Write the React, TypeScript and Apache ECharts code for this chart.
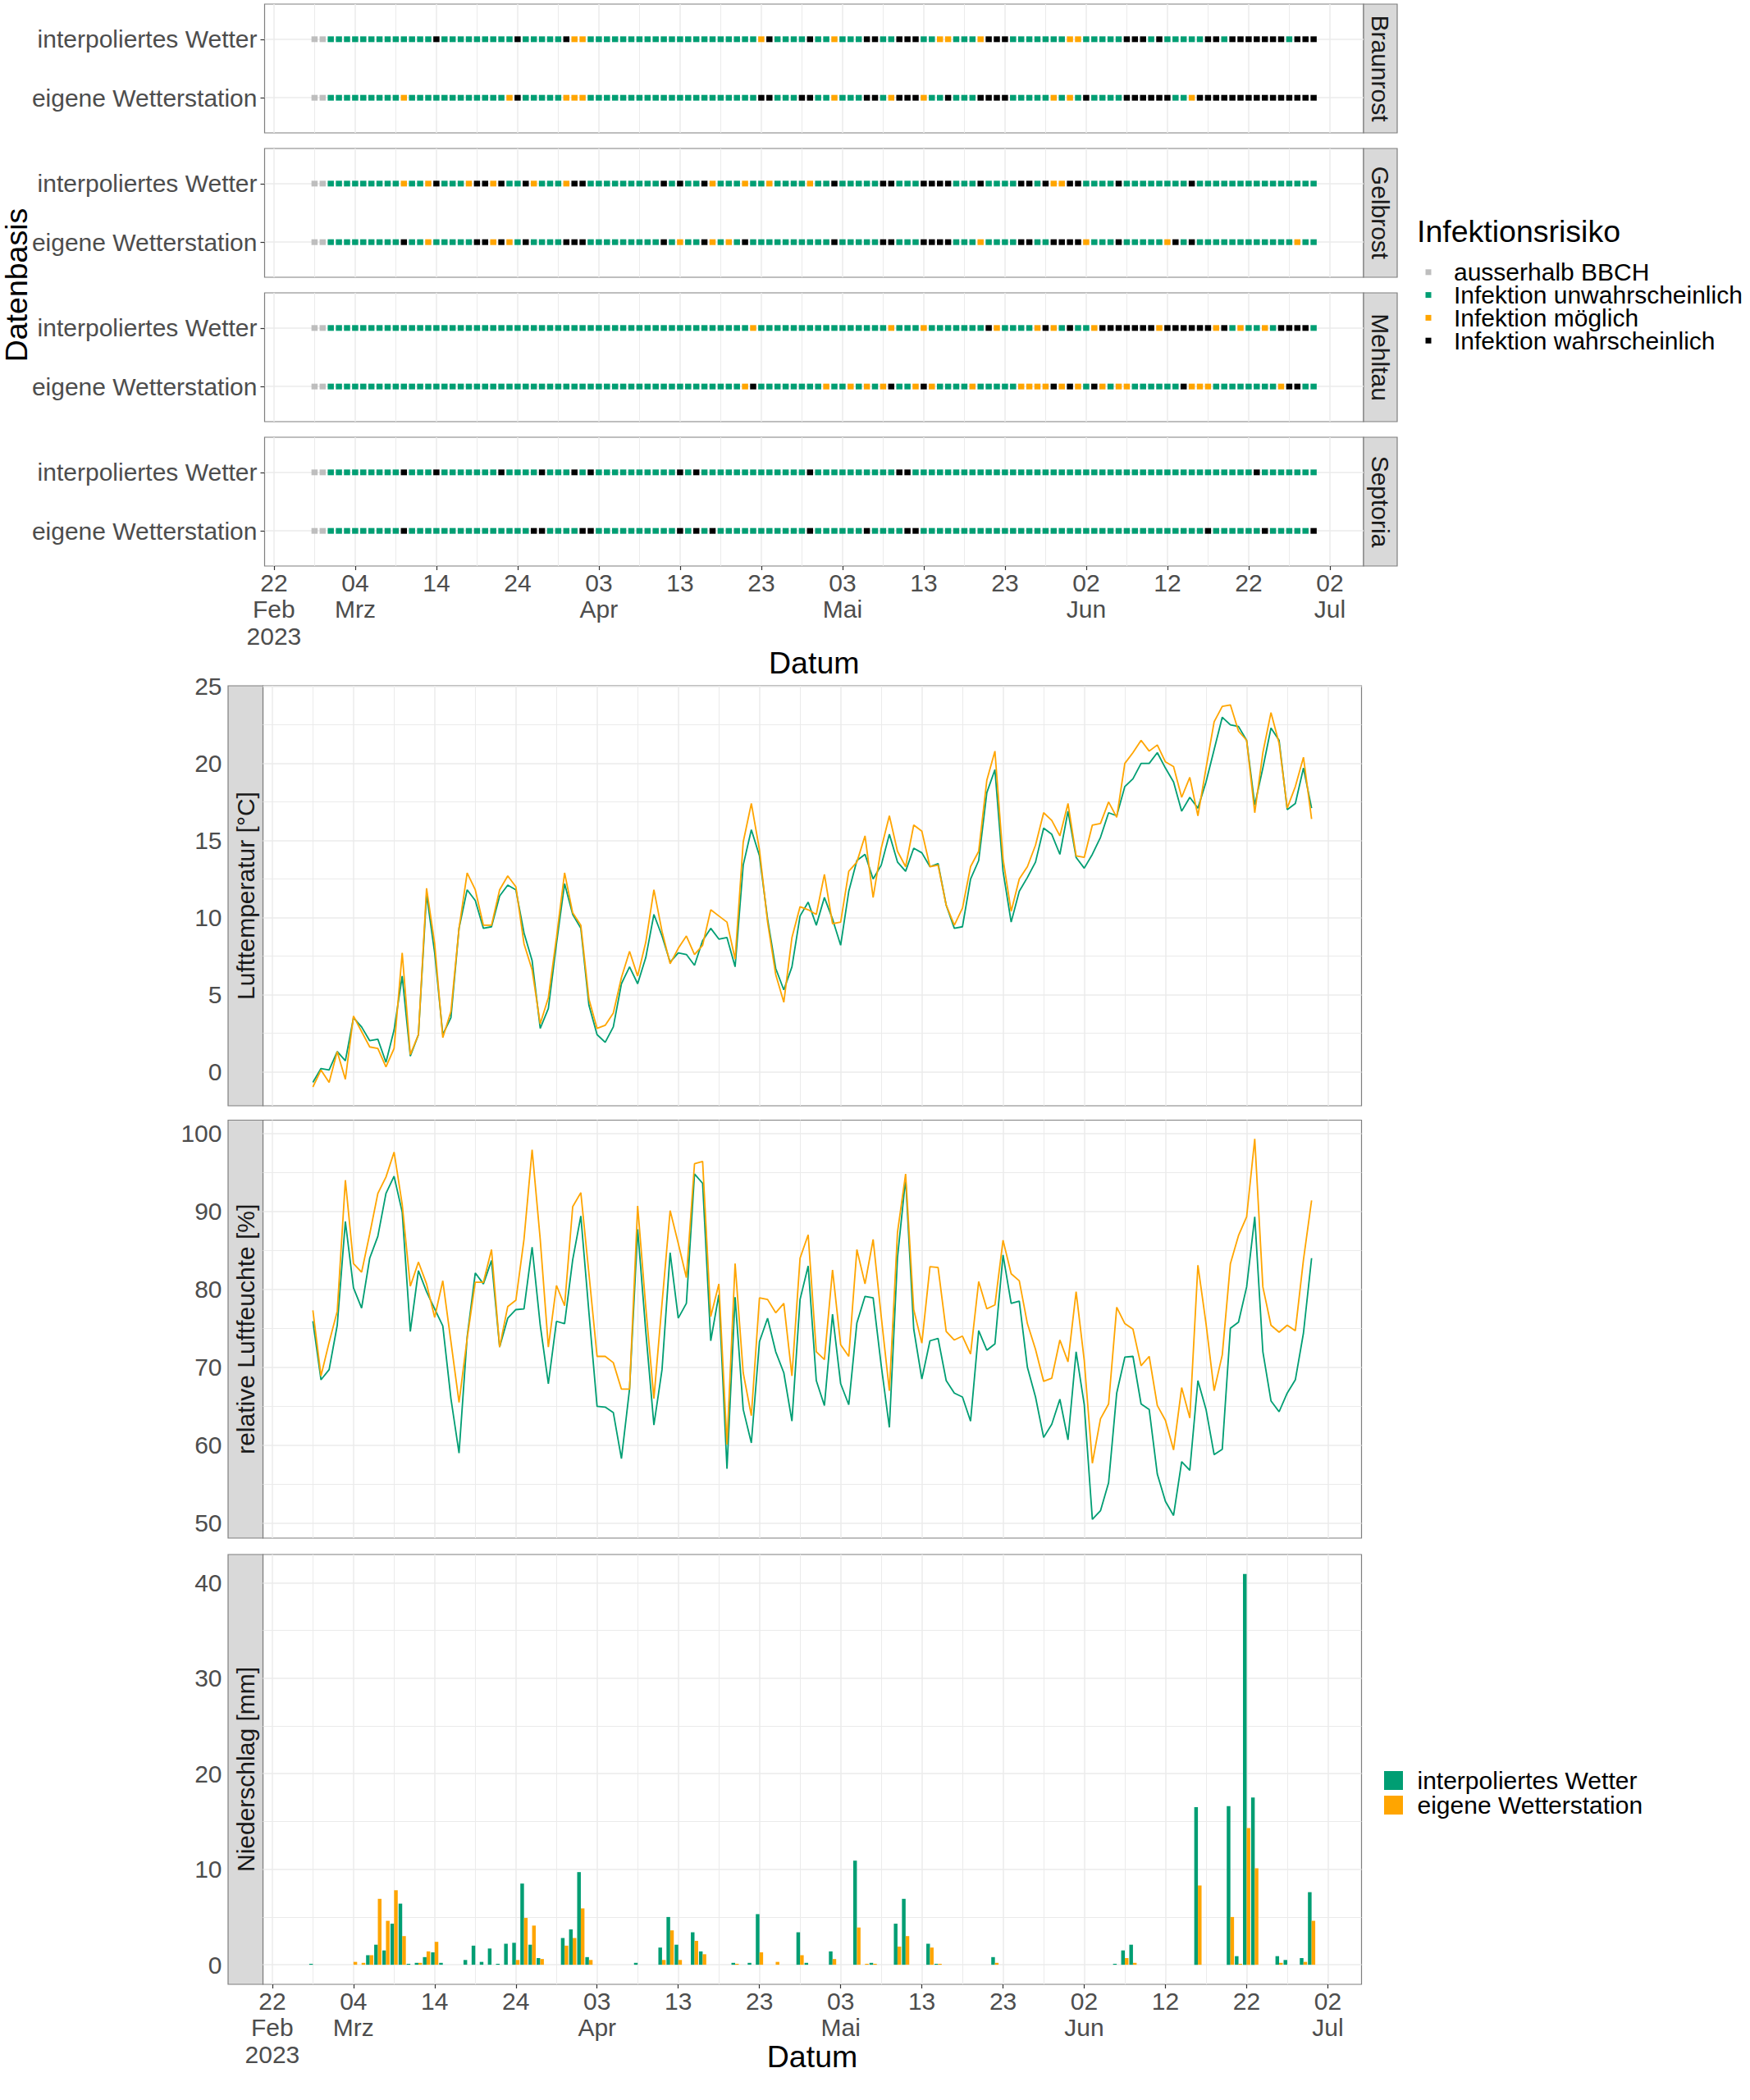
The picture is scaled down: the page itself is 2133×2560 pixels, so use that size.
import React, { useEffect, useRef } from "react";
import * as echarts from "echarts";

const FONT = "'Liberation Sans', Arial, Helvetica, sans-serif";
const WIDTH = 2133;
const HEIGHT = 2560;
const DAY_MS = 86400000;

// ---------- data ----------
const startDate = "2023-02-27";
const tickDates = [
  "2023-02-22", "2023-03-04", "2023-03-14", "2023-03-24", "2023-04-03", "2023-04-13", "2023-04-23",
  "2023-05-03", "2023-05-13", "2023-05-23", "2023-06-02", "2023-06-12", "2023-06-22", "2023-07-02",
];
const monthNames = ["Jan", "Feb", "Mrz", "Apr", "Mai", "Jun", "Jul", "Aug", "Sep", "Okt", "Nov", "Dez"];

const riskLevels = ["ausserhalb BBCH", "Infektion unwahrscheinlich", "Infektion möglich", "Infektion wahrscheinlich"];
const riskCodes = ["g", "u", "m", "w"];
const riskColors = ["#BEBEBE", "#009E73", "#FFA500", "#000000"];
const diseases = ["Braunrost", "Gelbrost", "Mehltau", "Septoria"];
const sources = ["interpoliertes Wetter", "eigene Wetterstation"];
const sourceColors = ["#009E73", "#FFA500"];

// one character per day from 2023-02-27: g = ausserhalb BBCH, u = unwahrscheinlich, m = möglich, w = wahrscheinlich
const braunrostInterp = ["gguuuuuuuu", "uuuuuwuuuu", "uuuuuwuuuu", "uwmmuuuuuu", "uuuuuuuuuu", "uuuuumwuuu", "uwuumuuuww", "uuwwwuummu", "uumwwwuuuu", "uuummuuuuu", "wwwuwuuuuu", "wwuwwwwwww", "uwww"].join("");
const braunrostEigen = ["gguuuuuuuu", "umuuuuuuuu", "uuuumwuuuu", "ummmuuuuuu", "uuuuuuuuuu", "uuuuuwwuuu", "wwuumuuuww", "umwwwmuuwu", "uuwwwwuuuu", "umumuwuuuu", "wwwwwwuumw", "wwwwwwwwww", "wwww"].join("");
const gelbrostInterp = ["gguuuuuuuu", "umuumwuuum", "wwmwuuwmuu", "umwwuuuuuu", "uuuwuwuuwm", "uuumuumuuu", "umuuwuuuuu", "wwuuuwwwwu", "uuwuuuuwwu", "wmmwwuuuuw", "uuuuuuuuwu", "uuuuuuuuuu", "uuuu"].join("");
const gelbrostEigen = ["gguuuuuuuu", "uwuumuuuuu", "wwmwmuwuuu", "uwwwuuuuuu", "uuuwumuuwm", "umuwuuuuuu", "uuuuwuuuuu", "wwuuuwwwwu", "uumuuuuwwu", "uwwwwmuuuw", "uuuuumwuwu", "uuuuuuuuuu", "umuu"].join("");
const mehltauInterp = ["gguuuuuuuu", "uuuuuuuuuu", "uuuuuuuuuu", "uuuuuuuuuu", "uuuuuuuuuu", "uuuumuuuuu", "uuuuuuuuuu", "umuuumuuuu", "uuuwmuuuum", "wmuwuumwww", "wwwwmwwwww", "wmwumuumuw", "wwwu"].join("");
const mehltauEigen = ["gguuuuuuuu", "uuuuuuuuuu", "uuuuuuuuuu", "uuuuuuuuuu", "uuuuuuuuuu", "uuumwuuuuu", "uuumuumumu", "mwuumwmuuu", "umuuuuummm", "mwmwmuwmum", "muuuuuuwmm", "muuuuuuuum", "wwuu"].join("");
const septoriaInterp = ["gguuuuuuuu", "uwuuuwuuuu", "uuuwuuuuwu", "uuwuwuuuuu", "uuuuuwuwuu", "uuuuuuuuuu", "uwuuuuuuuu", "uuwwuuuuuu", "uuuuuuuuuu", "uuuuuuuuuu", "uuuuuuuuuu", "uuuuuuwuuu", "uuuu"].join("");
const septoriaEigen = ["gguuuuuuuu", "uwuuuuuuuu", "uuuuuuuwwu", "uuuwwuuuuu", "uuuuuwuwuw", "uuuuuuuuuu", "uwuuuuuuwu", "uuuwwuuuuu", "uuuuuuuuuu", "uuuuuuuuuu", "uuuuuuuuuu", "wuuuuuuwuu", "uuuw"].join("");
const riskRows = [
  [braunrostInterp, braunrostEigen],
  [gelbrostInterp, gelbrostEigen],
  [mehltauInterp, mehltauEigen],
  [septoriaInterp, septoriaEigen],
];

const tempInterp = [
  -0.7, 0.2, 0.1, 1.3, 0.7, 3.5, 2.9, 2.0, 2.1, 0.6,
  2.7, 6.2, 1.0, 2.4, 11.5, 7.7, 2.4, 3.5, 9.3, 11.8,
  11.1, 9.3, 9.4, 11.4, 12.1, 11.8, 9.0, 7.2, 2.8, 4.1,
  8.3, 12.2, 10.2, 9.3, 4.3, 2.4, 1.9, 2.9, 5.7, 6.8,
  5.7, 7.4, 10.2, 8.8, 7.1, 7.7, 7.6, 6.9, 8.5, 9.3,
  8.6, 8.7, 6.8, 13.4, 15.7, 14.0, 9.9, 6.7, 5.3, 6.8,
  10.1, 11.0, 9.5, 11.3, 9.9, 8.2, 11.7, 13.7, 14.1, 12.5,
  13.4, 15.4, 13.6, 13.0, 14.5, 14.2, 13.3, 13.5, 10.8, 9.3,
  9.4, 12.5, 13.7, 18.1, 19.6, 13.0, 9.7, 11.7, 12.6, 13.6,
  15.8, 15.4, 14.1, 16.9, 13.9, 13.2, 14.1, 15.2, 16.8, 16.6,
  18.5, 19.0, 20.0, 20.0, 20.7, 19.7, 18.8, 16.9, 17.8, 17.1,
  18.8, 20.9, 23.0, 22.5, 22.4, 21.5, 17.3, 19.7, 22.3, 21.5,
  17.0, 17.4, 19.7, 17.1,
];
const tempEigen = [
  -1.0, 0.1, -0.7, 1.3, -0.5, 3.6, 2.6, 1.6, 1.5, 0.3,
  1.5, 7.7, 1.1, 2.4, 11.9, 8.3, 2.2, 3.9, 9.3, 12.9,
  11.8, 9.5, 9.5, 11.8, 12.7, 12.0, 8.3, 6.6, 3.1, 4.8,
  8.7, 12.9, 10.3, 9.5, 4.7, 2.8, 3.0, 3.8, 6.1, 7.8,
  6.2, 8.4, 11.8, 9.1, 7.0, 8.0, 8.8, 7.6, 8.2, 10.5,
  10.1, 9.7, 7.3, 14.9, 17.4, 14.4, 9.7, 6.3, 4.5, 8.7,
  10.7, 10.5, 10.2, 12.8, 9.6, 9.7, 13.0, 13.6, 15.3, 11.3,
  14.5, 16.6, 14.3, 13.3, 16.0, 15.6, 13.3, 13.4, 10.8, 9.5,
  10.6, 13.3, 14.3, 18.9, 20.8, 13.8, 10.4, 12.5, 13.3, 14.7,
  16.8, 16.3, 15.3, 17.4, 14.0, 13.9, 16.0, 16.1, 17.5, 16.5,
  20.0, 20.7, 21.5, 20.8, 21.2, 20.1, 19.8, 17.8, 19.1, 16.6,
  19.7, 22.7, 23.7, 23.8, 22.1, 21.5, 16.8, 20.7, 23.3, 21.3,
  17.1, 18.5, 20.4, 16.4,
];
const humInterp = [
  75.9, 68.4, 69.7, 75.4, 88.7, 80.2, 77.6, 84.0, 86.8, 92.3,
  94.5, 89.9, 74.6, 82.4, 79.7, 77.5, 75.3, 66.0, 59.0, 73.9,
  82.1, 80.7, 83.7, 72.6, 76.3, 77.4, 77.5, 85.4, 75.4, 67.9,
  75.9, 75.6, 83.8, 89.4, 77.0, 65.0, 64.9, 64.2, 58.3, 67.2,
  87.7, 74.6, 62.6, 69.7, 84.7, 76.3, 78.2, 94.8, 93.6, 73.4,
  79.3, 57.0, 79.0, 64.6, 60.3, 73.3, 76.3, 72.0, 69.3, 63.1,
  78.7, 83.0, 68.3, 65.1, 76.8, 67.9, 65.2, 75.7, 79.1, 78.9,
  70.2, 62.3, 84.1, 94.2, 74.9, 68.5, 73.4, 73.7, 68.3, 66.7,
  66.2, 63.1, 74.7, 72.2, 73.0, 84.4, 78.2, 78.5, 70.0, 66.2,
  61.0, 62.7, 65.9, 60.7, 72.0, 65.2, 50.5, 51.6, 55.2, 66.7,
  71.3, 71.4, 65.3, 64.6, 56.3, 52.8, 51.0, 57.9, 56.8, 68.3,
  64.6, 58.8, 59.5, 75.0, 75.8, 80.3, 89.3, 72.0, 65.7, 64.3,
  66.7, 68.4, 74.4, 84.0,
];
const humEigen = [
  77.3, 68.9, 73.2, 77.2, 94.0, 83.3, 82.2, 87.1, 92.3, 94.4,
  97.6, 90.9, 80.4, 83.5, 80.7, 76.4, 81.1, 73.3, 65.5, 73.7,
  80.9, 80.9, 85.1, 72.6, 77.8, 78.6, 86.4, 97.9, 86.4, 72.6,
  80.5, 77.9, 90.6, 92.4, 82.0, 71.4, 71.4, 70.6, 67.2, 67.2,
  90.7, 77.7, 66.0, 78.2, 90.1, 85.9, 81.5, 96.1, 96.4, 76.5,
  80.7, 60.1, 83.3, 69.3, 63.8, 78.9, 78.7, 77.0, 78.2, 68.9,
  84.0, 87.0, 72.0, 71.0, 82.5, 72.9, 71.4, 85.1, 80.7, 86.4,
  76.5, 67.0, 87.3, 94.8, 77.4, 73.1, 82.9, 82.8, 74.6, 73.5,
  74.0, 71.7, 81.0, 77.5, 78.0, 86.3, 82.0, 81.1, 75.6, 72.3,
  68.2, 68.6, 73.5, 70.7, 79.7, 70.9, 57.7, 63.4, 65.3, 77.7,
  75.6, 74.9, 70.2, 71.4, 65.1, 63.2, 59.4, 67.4, 63.5, 83.1,
  75.6, 67.0, 71.6, 83.3, 86.9, 89.3, 99.3, 80.3, 75.4, 74.5,
  75.4, 74.7, 83.8, 91.4,
];
const precipInterp = [
  0.1, 0, 0, 0, 0, 0, 0, 1.0, 2.1, 1.5,
  4.3, 6.4, 0.1, 0.2, 0.8, 1.3, 0.2, 0, 0, 0.5,
  2.0, 0.3, 1.7, 0.1, 2.2, 2.3, 8.5, 2.1, 0.7, 0,
  0, 2.8, 3.7, 9.7, 0.8, 0, 0, 0, 0, 0,
  0.2, 0, 0, 1.8, 5.0, 2.1, 0, 3.4, 1.4, 0,
  0, 0, 0.2, 0, 0.2, 5.3, 0, 0, 0, 0,
  3.4, 0.2, 0, 0, 1.4, 0, 0, 10.9, 0, 0.2,
  0, 0, 4.3, 6.9, 0, 0, 2.2, 0.1, 0, 0,
  0, 0, 0, 0, 0.8, 0, 0, 0, 0, 0,
  0, 0, 0, 0, 0, 0, 0, 0, 0, 0.1,
  1.5, 2.1, 0, 0, 0, 0, 0, 0, 0, 16.5,
  0, 0, 0, 16.6, 0.9, 40.9, 17.5, 0, 0, 0.9,
  0.5, 0, 0.7, 7.6,
];
const precipEigen = [
  0, 0, 0, 0, 0, 0.3, 0.2, 1.0, 6.9, 4.6,
  7.8, 3.0, 0, 0.2, 1.4, 2.4, 0, 0, 0, 0,
  0, 0, 0, 0, 0, 0.5, 4.9, 4.1, 0.6, 0,
  0, 2.0, 2.8, 5.9, 0.5, 0, 0, 0, 0, 0,
  0, 0, 0, 0.5, 3.6, 0.5, 0, 2.5, 1.1, 0,
  0, 0, 0.1, 0, 0, 1.3, 0, 0.3, 0, 0,
  1.0, 0, 0, 0, 0.6, 0, 0, 3.9, 0.1, 0.1,
  0, 0, 1.9, 3.0, 0, 0, 1.8, 0.1, 0, 0,
  0, 0, 0, 0, 0.2, 0, 0, 0, 0, 0,
  0, 0, 0, 0, 0, 0, 0, 0, 0, 0,
  0.7, 0.2, 0, 0, 0, 0, 0, 0, 0, 8.3,
  0, 0, 0, 5.0, 0.1, 14.3, 10.1, 0, 0, 0.2,
  0, 0, 0.3, 4.6,
];

const tempTicks = [0, 5, 10, 15, 20, 25];
const humTicks = [50, 60, 70, 80, 90, 100];
const precipTicks = [0, 10, 20, 30, 40];

// ---------- helpers ----------
const START = Date.parse(startDate);
const toDay = (iso: string) => (Date.parse(iso) - START) / DAY_MS;
const xMajor = tickDates.map(toDay);
const mids = (t: number[]) => t.slice(1).map((v, i) => (v + t[i]) / 2);
const xMinor = mids(xMajor);
const pairs = (arr: number[]) => arr.map((v, i) => [i, v]);

const GRID_COLOR = "#EBEBEB";
const BORDER = "#7F7F7F";
const axisText = { fontFamily: FONT, fontSize: 30, color: "#4D4D4D" };

const X_RANGE = [-6.15, 129.15];
const TOP_LEFT = 322.5;
const TOP_W = 1339.5;
const riskTops = [5, 181, 357, 533];
const RISK_H = 157;
const BOT_LEFT = 320.5;
const BOT_W = 1339;
const bottomPanels = [
  { top: 836, height: 512, range: [-2.22, 25.04], ticks: tempTicks, label: "Lufttemperatur [°C]" },
  { top: 1365.5, height: 509.5, range: [48.1, 101.7], ticks: humTicks, label: "relative Luftfeuchte [%]" },
  { top: 1895, height: 524, range: [-2.05, 42.95], ticks: precipTicks, label: "Niederschlag [mm]" },
];

function xLabel(v: number) {
  const dv = Math.round(v);
  const dt = new Date(START + dv * DAY_MS);
  const day = String(dt.getUTCDate()).padStart(2, "0");
  const idx = xMajor.indexOf(dv);
  const mon = monthNames[dt.getUTCMonth()];
  if (idx <= 0) return `${day}\n${mon}\n${dt.getUTCFullYear()}`;
  const prev = new Date(START + xMajor[idx - 1] * DAY_MS);
  if (prev.getUTCMonth() !== dt.getUTCMonth()) return `${day}\n${mon}`;
  return day;
}

function buildOption() {
  const grid: any[] = [];
  const xAxis: any[] = [];
  const yAxis: any[] = [];
  const series: any[] = [];
  const graphics: any[] = [];

  const addX = (gi: number, withLabels: boolean) => {
    xAxis.push({
      type: "value", gridIndex: gi, min: X_RANGE[0], max: X_RANGE[1],
      axisLine: { show: false, onZero: false },
      axisTick: { show: withLabels, length: 5, customValues: xMajor, lineStyle: { color: "#333333", width: 1.2 } },
      axisLabel: {
        show: withLabels, customValues: xMajor, formatter: xLabel, margin: 4,
        lineHeight: 32.6, align: "center", verticalAlign: "top", ...axisText,
      },
      splitLine: { show: true, lineStyle: { color: GRID_COLOR, width: 1.5 } },
    });
    xAxis.push({
      type: "value", gridIndex: gi, min: X_RANGE[0], max: X_RANGE[1],
      axisLine: { show: false, onZero: false },
      axisTick: { show: false, customValues: xMinor },
      axisLabel: { show: false },
      splitLine: { show: true, lineStyle: { color: GRID_COLOR, width: 1.0 } },
    });
  };

  // risk panels
  riskTops.forEach((top, p) => {
    grid.push({ left: TOP_LEFT, top, width: TOP_W, height: RISK_H, show: true, borderColor: BORDER, borderWidth: 1.2, outerBoundsMode: "none" });
    addX(p, p === 3);
    yAxis.push({
      type: "value", gridIndex: p, min: 0.4, max: 2.6,
      axisLine: { show: false, onZero: false },
      axisTick: { show: true, length: 5, customValues: [1, 2], lineStyle: { color: "#333333", width: 1.2 } },
      axisLabel: { customValues: [1, 2], formatter: (v: number) => (v > 1.5 ? sources[0] : sources[1]), margin: 9, ...axisText },
      splitLine: { show: true, lineStyle: { color: GRID_COLOR, width: 1.5 } },
    });
    graphics.push({
      type: "rect", shape: { x: TOP_LEFT + TOP_W, y: top, width: 41, height: RISK_H },
      style: { fill: "#D9D9D9", stroke: BORDER, lineWidth: 1.2 },
    });
    graphics.push({
      type: "text", x: TOP_LEFT + TOP_W + 20.5, y: top + RISK_H / 2, rotation: -Math.PI / 2,
      style: { text: diseases[p], fontFamily: FONT, fontSize: 30, fill: "#1A1A1A", align: "center", verticalAlign: "middle", textAlign: "center", textVerticalAlign: "middle" },
    });
  });

  // bottom panels
  bottomPanels.forEach((bp, b) => {
    const gi = 4 + b;
    grid.push({ left: BOT_LEFT, top: bp.top, width: BOT_W, height: bp.height, show: true, borderColor: BORDER, borderWidth: 1.2, outerBoundsMode: "none" });
    addX(gi, b === 2);
    yAxis.push({
      type: "value", gridIndex: gi, min: bp.range[0], max: bp.range[1],
      axisLine: { show: false, onZero: false },
      axisTick: { show: false, customValues: bp.ticks },
      axisLabel: { customValues: bp.ticks, margin: 50, ...axisText },
      splitLine: { show: true, lineStyle: { color: GRID_COLOR, width: 1.5 } },
    });
    yAxis.push({
      type: "value", gridIndex: gi, min: bp.range[0], max: bp.range[1], position: "left",
      axisLine: { show: false, onZero: false },
      axisTick: { show: false, customValues: mids(bp.ticks) },
      axisLabel: { show: false },
      splitLine: { show: true, lineStyle: { color: GRID_COLOR, width: 1.0 } },
    });
    graphics.push({
      type: "rect", shape: { x: 278, y: bp.top, width: BOT_LEFT - 278, height: bp.height },
      style: { fill: "#D9D9D9", stroke: BORDER, lineWidth: 1.2 },
    });
    graphics.push({
      type: "text", x: 299.5, y: bp.top + bp.height / 2, rotation: Math.PI / 2,
      style: { text: bp.label, fontFamily: FONT, fontSize: 30, fill: "#1A1A1A", align: "center", verticalAlign: "middle", textAlign: "center", textVerticalAlign: "middle" },
    });
  });

  // precipitation bars (first so the legend picks them)
  [precipInterp, precipEigen].forEach((arr, s) => {
    series.push({
      type: "bar", name: sources[s], xAxisIndex: 12, yAxisIndex: 8,
      data: pairs(arr), barWidth: 4.45, barGap: "0%",
      itemStyle: { color: sourceColors[s], opacity: 1 }, silent: true,
    });
  });

  // risk scatter
  riskRows.forEach((rows, p) => {
    riskLevels.forEach((lvl, c) => {
      const data: number[][] = [];
      rows.forEach((row, r) => {
        for (let d = 0; d < row.length; d++) if (row[d] === riskCodes[c]) data.push([d, r === 0 ? 2 : 1]);
      });
      series.push({
        type: "scatter", name: lvl, xAxisIndex: 2 * p, yAxisIndex: p, data,
        symbol: "rect", symbolSize: [7.5, 7], itemStyle: { color: riskColors[c], opacity: 1 }, silent: true,
      });
    });
  });

  // temperature & humidity lines
  [[tempInterp, tempEigen], [humInterp, humEigen]].forEach((pair, b) => {
    pair.forEach((arr, s) => {
      series.push({
        type: "line", name: sources[s], xAxisIndex: 8 + 2 * b, yAxisIndex: 4 + 2 * b,
        data: pairs(arr), showSymbol: false, symbol: "none",
        lineStyle: { color: sourceColors[s], width: 1.8 }, itemStyle: { color: sourceColors[s] }, silent: true,
      });
    });
  });

  // titles
  const titleStyle = { fontFamily: FONT, fontSize: 37.5, fill: "#000000" };
  graphics.push({
    type: "text", x: 19.5, y: (riskTops[0] + riskTops[3] + RISK_H) / 2, rotation: Math.PI / 2,
    style: { text: "Datenbasis", ...titleStyle, align: "center", verticalAlign: "middle", textAlign: "center", textVerticalAlign: "middle" },
  });
  graphics.push({
    type: "text", x: TOP_LEFT + TOP_W / 2, y: 808,
    style: { text: "Datum", ...titleStyle, align: "center", verticalAlign: "middle", textAlign: "center", textVerticalAlign: "middle" },
  });
  graphics.push({
    type: "text", x: BOT_LEFT + BOT_W / 2, y: 2507,
    style: { text: "Datum", ...titleStyle, align: "center", verticalAlign: "middle", textAlign: "center", textVerticalAlign: "middle" },
  });
  graphics.push({
    type: "text", x: 1727, y: 282,
    style: { text: "Infektionsrisiko", ...titleStyle, align: "left", verticalAlign: "middle", textAlign: "left", textVerticalAlign: "middle" },
  });

  const legendText = (pad: number, lh: number) => ({
    fontFamily: FONT, fontSize: 30, lineHeight: lh, color: "#000000",
    rich: { p: { fontFamily: FONT, fontSize: 30, lineHeight: lh, color: "#000000", padding: [0, 0, 0, pad] } },
  });

  return {
    animation: false,
    backgroundColor: "#FFFFFF",
    grid, xAxis, yAxis, series,
    legend: [
      {
        data: riskLevels, orient: "vertical", left: 1737.5, top: 316.8, padding: 0,
        icon: "rect", itemWidth: 7, itemHeight: 7, itemGap: -2.2, selectedMode: false,
        formatter: "{p|{name}}", textStyle: legendText(22.5, 28.3),
      },
      {
        data: sources, orient: "vertical", left: 1687, top: 2155.5, padding: 0,
        icon: "rect", itemWidth: 23, itemHeight: 23, itemGap: 0, selectedMode: false,
        formatter: "{p|{name}}", textStyle: legendText(12.5, 30),
      },
    ],
    graphic: { elements: graphics },
  };
}

export default function App() {
  const ref = useRef<HTMLDivElement>(null);
  useEffect(() => {
    if (!ref.current) return;
    const chart = echarts.init(ref.current, null, { renderer: "svg", width: WIDTH, height: HEIGHT });
    chart.setOption(buildOption() as any);
    return () => chart.dispose();
  }, []);
  return (
    <div
      ref={ref}
      style={{ position: "absolute", left: 0, top: 0, width: WIDTH, height: HEIGHT, background: "#FFFFFF" }}
    />
  );
}
